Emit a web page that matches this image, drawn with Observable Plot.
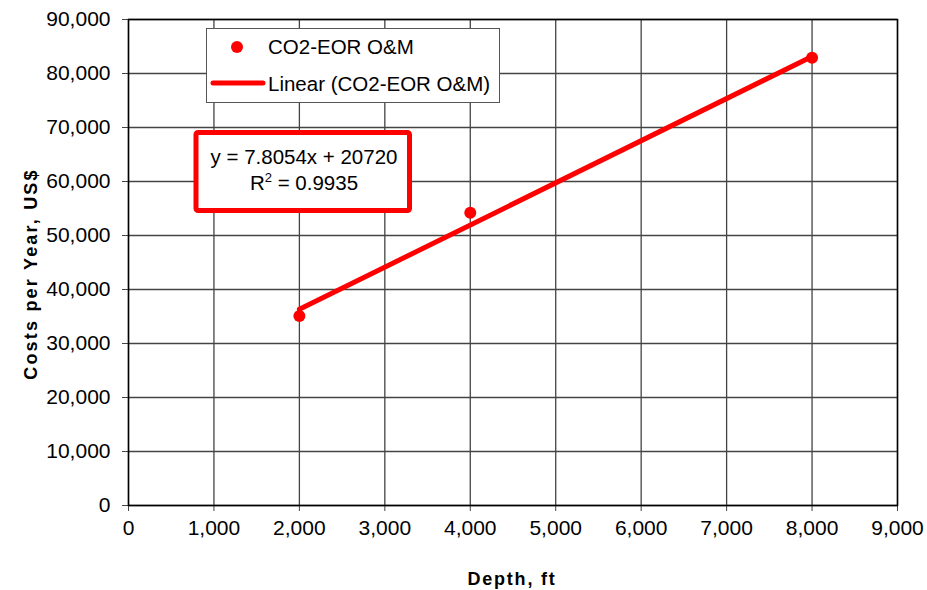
<!DOCTYPE html>
<html>
<head>
<meta charset="utf-8">
<script src="https://cdn.jsdelivr.net/npm/d3@7"></script>
<script src="https://cdn.jsdelivr.net/npm/@observablehq/plot@0.6"></script>
<style>
  html, body { margin: 0; padding: 0; background: #fff; }
  #chart svg { display: block; }
</style>
</head>
<body>
<div id="chart"></div>
<script>
// Data
const depth = [2000, 4000, 8000];
const cost = [35100, 54200, 82900];
const seriesName = "CO2-EOR O&M";
const trendName = "Linear (CO2-EOR O&M)";
const slope = [7.8054];
const intercept = [20720];
const r2 = [0.9935];
const xTicks = [0, 1000, 2000, 3000, 4000, 5000, 6000, 7000, 8000, 9000];
const yTicks = [0, 10000, 20000, 30000, 40000, 50000, 60000, 70000, 80000, 90000];
const xTitle = "Depth, ft";
const yTitle = "Costs per Year, US$";

const points = depth.map((d, i) => ({depth: d, cost: cost[i]}));
const xExt = d3.extent(depth);
const trend = xExt.map(x => ({depth: x, cost: slope[0] * x + intercept[0]}));

const fmt = d3.format(",");
const font = "'Liberation Sans', Arial, sans-serif";

const chart = Plot.plot({
  width: 927,
  height: 590,
  marginLeft: 128,
  marginRight: 30,
  marginTop: 19,
  marginBottom: 85,
  style: {fontFamily: font, fontSize: "21px", color: "#000", background: "#fff", overflow: "visible"},
  x: {domain: [0, 9000]},
  y: {domain: [0, 90000]},
  marks: [
    Plot.gridX(xTicks, {stroke: "#444", strokeOpacity: 1, strokeWidth: 1.3}),
    Plot.gridY(yTicks, {stroke: "#444", strokeOpacity: 1, strokeWidth: 1.3}),
    Plot.axisX(xTicks, {tickSize: 6, tickPadding: 9, tickFormat: fmt, label: null, stroke: "#444", fontSize: 21}),
    Plot.axisY(yTicks, {tickSize: 6, tickPadding: 12, tickFormat: fmt, label: null, stroke: "#444", fontSize: 21}),
    Plot.frame({stroke: "#000", strokeWidth: 1.5}),
    Plot.line(trend, {x: "depth", y: "cost", stroke: "#ff0000", strokeWidth: 5}),
    Plot.dot(points, {x: "depth", y: "cost", r: 6, fill: "#ff0000", stroke: null})
  ]
});
document.getElementById("chart").appendChild(chart);

const svg = d3.select(chart);

// Axis titles
svg.append("text")
  .attr("x", 512).attr("y", 585)
  .attr("text-anchor", "middle")
  .attr("font-family", font).attr("font-size", 18).attr("font-weight", "bold")
  .attr("letter-spacing", "1.8px")
  .text(xTitle);
svg.append("text")
  .attr("transform", "translate(37,274) rotate(-90)")
  .attr("text-anchor", "middle")
  .attr("font-family", font).attr("font-size", 18).attr("font-weight", "bold")
  .attr("letter-spacing", "2.2px")
  .text(yTitle);

// Legend
const lg = svg.append("g");
lg.append("rect").attr("x", 206.5).attr("y", 28.5).attr("width", 293).attr("height", 74)
  .attr("fill", "#fff").attr("stroke", "#555").attr("stroke-width", 1);
lg.append("circle").attr("cx", 237).attr("cy", 47).attr("r", 6).attr("fill", "#ff0000");
lg.append("text").attr("x", 268).attr("y", 54).attr("text-anchor", "start")
  .attr("font-family", font).attr("font-size", 20.5).text(seriesName);
lg.append("line").attr("x1", 213).attr("x2", 263).attr("y1", 83).attr("y2", 83)
  .attr("stroke", "#ff0000").attr("stroke-width", 5).attr("stroke-linecap", "round");
lg.append("text").attr("x", 268).attr("y", 91).attr("text-anchor", "start")
  .attr("font-family", font).attr("font-size", 20.5).text(trendName);

// Equation box
const eq = svg.append("g");
eq.append("rect").attr("x", 196).attr("y", 132.5).attr("width", 213.5).attr("height", 78)
  .attr("rx", 2).attr("fill", "#fff").attr("stroke", "#ff0000").attr("stroke-width", 5);
eq.append("text").attr("x", 304).attr("y", 164).attr("text-anchor", "middle")
  .attr("font-family", font).attr("font-size", 20.5)
  .text(`y = ${slope[0]}x + ${intercept[0]}`);
const t2 = eq.append("text").attr("x", 304).attr("y", 190).attr("text-anchor", "middle")
  .attr("font-family", font).attr("font-size", 20.5);
t2.append("tspan").text("R");
t2.append("tspan").attr("font-size", 13).attr("dy", -8).text("2");
t2.append("tspan").attr("dy", 8).text(` = ${r2[0]}`);
</script>
</body>
</html>
